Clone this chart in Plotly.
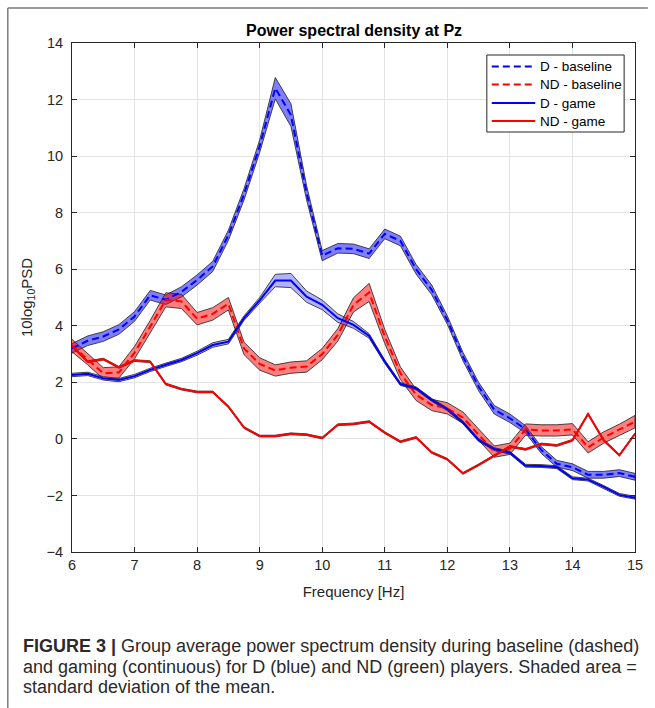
import plotly.graph_objects as go

# Frequency grid (Hz)
freq = [6.00, 6.25, 6.50, 6.75, 7.00, 7.25, 7.50, 7.75, 8.00, 8.25, 8.50, 8.75,
        9.00, 9.25, 9.50, 9.75, 10.00, 10.25, 10.50, 10.75, 11.00, 11.25, 11.50, 11.75,
        12.00, 12.25, 12.50, 12.75, 13.00, 13.25, 13.50, 13.75, 14.00, 14.25, 14.50, 14.75, 15.00]

# Group means (10log10 PSD) and standard deviation of the mean
d_base_mean = [3.20, 3.47, 3.62, 3.87, 4.33, 5.08, 4.92, 5.20, 5.62, 6.10, 7.20, 8.65,
               10.35, 12.40, 11.45, 8.70, 6.48, 6.74, 6.72, 6.55, 7.25, 7.00, 6.00, 5.27,
               4.20, 2.91, 1.85, 1.03, 0.73, 0.34, -0.39, -0.88, -1.00, -1.27, -1.27, -1.21, -1.34]
d_base_sd = [0.17, 0.17, 0.17, 0.17, 0.17, 0.17, 0.17, 0.18, 0.18, 0.18, 0.18, 0.20,
             0.22, 0.38, 0.40, 0.25, 0.18, 0.17, 0.17, 0.17, 0.17, 0.17, 0.17, 0.17,
             0.15, 0.15, 0.15, 0.15, 0.15, 0.13, 0.12, 0.12, 0.12, 0.12, 0.12, 0.12, 0.12]

nd_base_mean = [3.30, 2.82, 2.32, 2.35, 3.05, 3.97, 4.92, 4.86, 4.25, 4.42, 4.78, 3.20,
                2.65, 2.42, 2.52, 2.56, 3.00, 3.68, 4.74, 5.18, 3.62, 2.32, 1.56, 1.20,
                1.08, 0.75, 0.14, -0.45, -0.35, 0.33, 0.30, 0.30, 0.34, -0.30, 0.05, 0.32, 0.61]
nd_base_sd = [0.22, 0.20, 0.20, 0.20, 0.22, 0.22, 0.25, 0.25, 0.22, 0.22, 0.22, 0.22,
              0.22, 0.20, 0.20, 0.20, 0.20, 0.22, 0.25, 0.32, 0.25, 0.22, 0.20, 0.20,
              0.20, 0.20, 0.20, 0.20, 0.20, 0.20, 0.20, 0.20, 0.20, 0.20, 0.20, 0.20, 0.22]

d_game_mean = [2.26, 2.30, 2.14, 2.08, 2.22, 2.44, 2.62, 2.79, 3.03, 3.32, 3.44, 4.27,
               4.90, 5.60, 5.60, 5.03, 4.74, 4.27, 4.03, 3.64, 2.73, 1.94, 1.79, 1.38,
               1.05, 0.58, -0.04, -0.36, -0.49, -0.95, -0.96, -1.00, -1.39, -1.44, -1.70, -1.98, -2.08]
d_game_sd = [0.06, 0.06, 0.06, 0.06, 0.06, 0.06, 0.06, 0.06, 0.07, 0.08, 0.08, 0.08,
             0.10, 0.22, 0.25, 0.20, 0.17, 0.15, 0.12, 0.08, 0.06, 0.05, 0.05, 0.05,
             0.05, 0.05, 0.05, 0.05, 0.05, 0.05, 0.05, 0.05, 0.05, 0.05, 0.05, 0.05, 0.05]

nd_game_mean = [3.29, 2.73, 2.82, 2.53, 2.77, 2.73, 1.94, 1.76, 1.66, 1.66, 1.14, 0.40,
                0.10, 0.10, 0.18, 0.15, 0.03, 0.50, 0.53, 0.61, 0.22, -0.10, 0.05, -0.48,
                -0.72, -1.22, -0.92, -0.60, -0.27, -0.37, -0.18, -0.23, -0.05, 0.88, -0.05, -0.58, 0.18]
nd_game_sd = [0.03] * len(freq)

DASH = "7px,4px"
series = [
    # name, mean, sd, colour, dash, band fill
    ("D - baseline", d_base_mean, d_base_sd, "rgb(0,0,255)", DASH, "rgba(0,0,255,0.5)"),
    ("ND - baseline", nd_base_mean, nd_base_sd, "rgb(255,0,0)", DASH, "rgba(255,0,0,0.5)"),
    ("D - game", d_game_mean, d_game_sd, "rgb(0,0,255)", "solid", "rgba(0,0,255,0.3)"),
    ("ND - game", nd_game_mean, nd_game_sd, "rgb(255,0,0)", "solid", "rgba(255,0,0,0.3)"),
]

FONT = "Liberation Sans, Arial, Helvetica"
axis_col = "#262626"
grid_col = "#e3e3e3"

fig = go.Figure()

# Shaded mean +/- SD bands with dark edges
for name, mean, sd, col, dash, fillc in series:
    upper = [m + s for m, s in zip(mean, sd)]
    lower = [m - s for m, s in zip(mean, sd)]
    fig.add_trace(go.Scatter(
        x=freq + freq[::-1], y=upper + lower[::-1],
        mode="lines", fill="toself", fillcolor=fillc,
        line=dict(color="rgba(40,40,40,0.85)", width=1),
        showlegend=False, hoverinfo="skip"))

# Mean curves
for name, mean, sd, col, dash, fillc in series:
    fig.add_trace(go.Scatter(
        x=freq, y=mean, mode="lines", name=name, showlegend=False,
        line=dict(color=col, width=2, dash=dash)))

fig.update_xaxes(
    range=[6, 15], dtick=1, tick0=6, ticks="inside", ticklen=5, tickcolor=axis_col,
    showline=True, linecolor=axis_col, linewidth=1, mirror="ticks",
    showgrid=True, gridcolor=grid_col, gridwidth=1, zeroline=False,
    tickfont=dict(family=FONT, size=14.5, color=axis_col),
    title=dict(text="Frequency [Hz]", standoff=14,
               font=dict(family=FONT, size=15, color=axis_col)))
fig.update_yaxes(
    range=[-4, 14], dtick=2, tick0=-4, ticks="inside", ticklen=5, tickcolor=axis_col,
    showline=True, linecolor=axis_col, linewidth=1, mirror="ticks",
    showgrid=True, gridcolor=grid_col, gridwidth=1, zeroline=False,
    ticklabelstandoff=5,
    tickfont=dict(family=FONT, size=14.5, color=axis_col),
    title=dict(text="10log<sub>10</sub>PSD", standoff=10,
               font=dict(family=FONT, size=15, color=axis_col)))

W, H = 655, 708
L, R, T, B = 72, 13, 43, 156
pw, ph = W - L - R, H - T - B


def px(x):
    return (x - L) / pw


def py(y):
    return (H - B - y) / ph


caption = [
    "<b>FIGURE 3 |</b> Group average power spectrum density during baseline (dashed)",
    "and gaming (continuous) for D (blue) and ND (green) players. Shaded area =",
    "standard deviation of the mean.",
]
annotations = [
    dict(text="<b>Power spectral density at Pz</b>", x=0.5, y=py(30), xref="paper", yref="paper",
         xanchor="center", yanchor="middle", showarrow=False,
         font=dict(family=FONT, size=16, color="#000000")),
]
for i, line in enumerate(caption):
    annotations.append(dict(
        text=line, x=px(20), y=py(646 + 20.5 * i), xref="paper", yref="paper",
        xanchor="left", yanchor="middle", showarrow=False, align="left",
        font=dict(family=FONT, size=18, color="#2a2a2a")))

shapes = [
    dict(type="line", xref="paper", yref="paper", x0=px(7), x1=px(7), y0=py(8), y1=py(708),
         line=dict(color="#7a7a7a", width=1.5)),
    dict(type="line", xref="paper", yref="paper", x0=px(7), x1=px(655), y0=py(8), y1=py(8),
         line=dict(color="#7a7a7a", width=1.5)),
]

# Legend box with line samples and labels
lx0, lx1, ly0, ly1 = 492, 631, 55, 132
shapes.append(dict(type="rect", xref="paper", yref="paper",
                   x0=px(lx0), x1=px(lx1), y0=py(ly0), y1=py(ly1),
                   fillcolor="white", line=dict(color=axis_col, width=1), layer="above"))
row_y = [66.5, 84.5, 103, 121]
for (name, mean, sd, col, dash, fillc), ry in zip(series, row_y):
    shapes.append(dict(type="line", xref="paper", yref="paper",
                       x0=px(497), x1=px(541), y0=py(ry), y1=py(ry),
                       line=dict(color=col, width=2, dash=dash), layer="above"))
    annotations.append(dict(text=name, x=px(544), y=py(ry), xref="paper", yref="paper",
                            xanchor="left", yanchor="middle", showarrow=False,
                            font=dict(family=FONT, size=13.5, color="#000000")))

fig.update_layout(
    width=W, height=H,
    margin=dict(l=L, r=R, t=T, b=B, pad=0),
    paper_bgcolor="white", plot_bgcolor="white",
    annotations=annotations, shapes=shapes,
    showlegend=False,
)

fig.write_html("out.html")
